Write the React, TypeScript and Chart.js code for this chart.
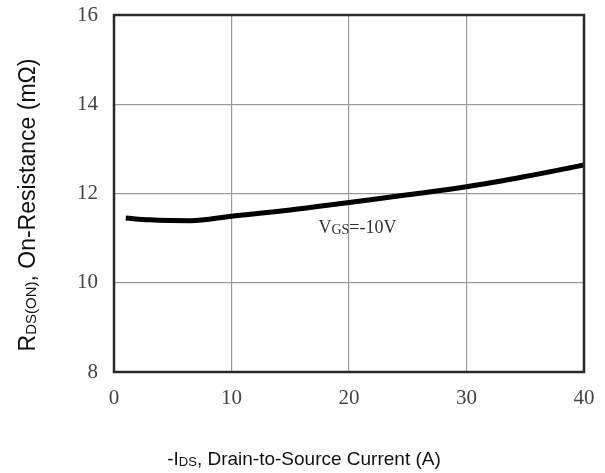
import React, { useEffect, useRef } from "react";
import { Chart, registerables } from "chart.js";
Chart.register(...registerables);

// Data
const currentA = [1, 3, 6.5, 10, 15, 20, 25, 30, 35, 40];
const resistance = [11.45, 11.41, 11.39, 11.49, 11.63, 11.8, 11.97, 12.15, 12.38, 12.64];
const xTicks = [0, 10, 20, 30, 40];
const yTicks = [8, 10, 12, 14, 16];
const curveLabelPos = [17.4, 11.11];
const curveLabel: [string, boolean][] = [["V", false], ["GS", true], ["=-10V", false]];
const xTitle: [string, boolean][] = [["-I", false], ["DS", true], [", Drain-to-Source Current (A)", false]];
const yTitle: [string, boolean][] = [["R", false], ["DS(ON)", true], [", On-Resistance (mΩ)", false]];

function drawRuns(ctx: CanvasRenderingContext2D, runs: [string, boolean][], family: string, size: number, subSize: number, cx: number, baseY: number, align: "center" | "left") {
  let total = 0;
  for (const [t, sub] of runs) {
    ctx.font = `${sub ? subSize : size}px ${family}`;
    total += ctx.measureText(t).width;
  }
  let x = align === "center" ? cx - total / 2 : cx;
  ctx.textAlign = "left";
  ctx.textBaseline = "alphabetic";
  for (const [t, sub] of runs) {
    ctx.font = `${sub ? subSize : size}px ${family}`;
    ctx.fillText(t, x, baseY + (sub ? 1 : 0));
    x += ctx.measureText(t).width;
  }
}

const decorPlugin = {
  id: "decor",
  afterDatasetsDraw(chart: any) {
    const { ctx, chartArea: a, scales } = chart;
    ctx.save();
    ctx.strokeStyle = "#2a2a2a";
    ctx.lineWidth = 2.5;
    ctx.strokeRect(a.left, a.top, a.right - a.left, a.bottom - a.top);
    ctx.fillStyle = "#333";
    const lx = scales.x.getPixelForValue(curveLabelPos[0]);
    const ly = scales.y.getPixelForValue(curveLabelPos[1]);
    drawRuns(ctx, curveLabel, "'Liberation Serif', serif", 18, 14, lx, ly, "left");
    ctx.fillStyle = "#111";
    drawRuns(ctx, xTitle, "'Liberation Sans', Arial, sans-serif", 19, 13, 304, 465, "center");
    ctx.translate(35, 205);
    ctx.rotate(-Math.PI / 2);
    drawRuns(ctx, yTitle, "'Liberation Sans', Arial, sans-serif", 23, 15, 0, 0, "center");
    ctx.restore();
  },
};

export default function App() {
  const ref = useRef<HTMLCanvasElement>(null);
  useEffect(() => {
    const gridColor = (c: any) => {
      const v = c.tick?.value;
      return v === c.scale.min || v === c.scale.max ? "rgba(0,0,0,0)" : "#9a9a9a";
    };
    const chart = new Chart(ref.current!, {
      type: "line",
      data: {
        datasets: [
          {
            data: currentA.map((x, i) => ({ x, y: resistance[i] })),
            borderColor: "#000",
            borderWidth: 5,
            pointRadius: 0,
            cubicInterpolationMode: "monotone",
            fill: false,
          },
        ],
      },
      options: {
        responsive: false,
        animation: false,
        layout: { padding: { left: 0, right: 21, top: 15, bottom: 0 } },
        plugins: { legend: { display: false }, tooltip: { enabled: false } },
        scales: {
          x: {
            type: "linear",
            min: 0,
            max: 40,
            afterBuildTicks: (s: any) => { s.ticks = xTicks.map((v) => ({ value: v })); },
            afterFit: (s: any) => { s.height = 101; s.paddingLeft = 0; s.paddingRight = 0; },
            grid: { color: gridColor, lineWidth: 1.2, drawTicks: false },
            border: { display: false },
            ticks: { padding: 14, color: "#444", font: { family: "'Liberation Serif', serif", size: 21 } },
          },
          y: {
            type: "linear",
            min: 8,
            max: 16,
            afterBuildTicks: (s: any) => { s.ticks = yTicks.map((v) => ({ value: v })); },
            afterFit: (s: any) => { s.width = 114; s.paddingTop = 0; s.paddingBottom = 0; },
            grid: { color: gridColor, lineWidth: 1.2, drawTicks: false },
            border: { display: false },
            ticks: { padding: 16, color: "#444", font: { family: "'Liberation Serif', serif", size: 21 } },
          },
        },
      },
      plugins: [decorPlugin],
    } as any);
    return () => chart.destroy();
  }, []);
  return (
    <div style={{ position: "fixed", left: 0, top: 0, width: 605, height: 473, background: "#fff" }}>
      <canvas ref={ref} width={605} height={473} style={{ width: 605, height: 473 }} />
    </div>
  );
}
